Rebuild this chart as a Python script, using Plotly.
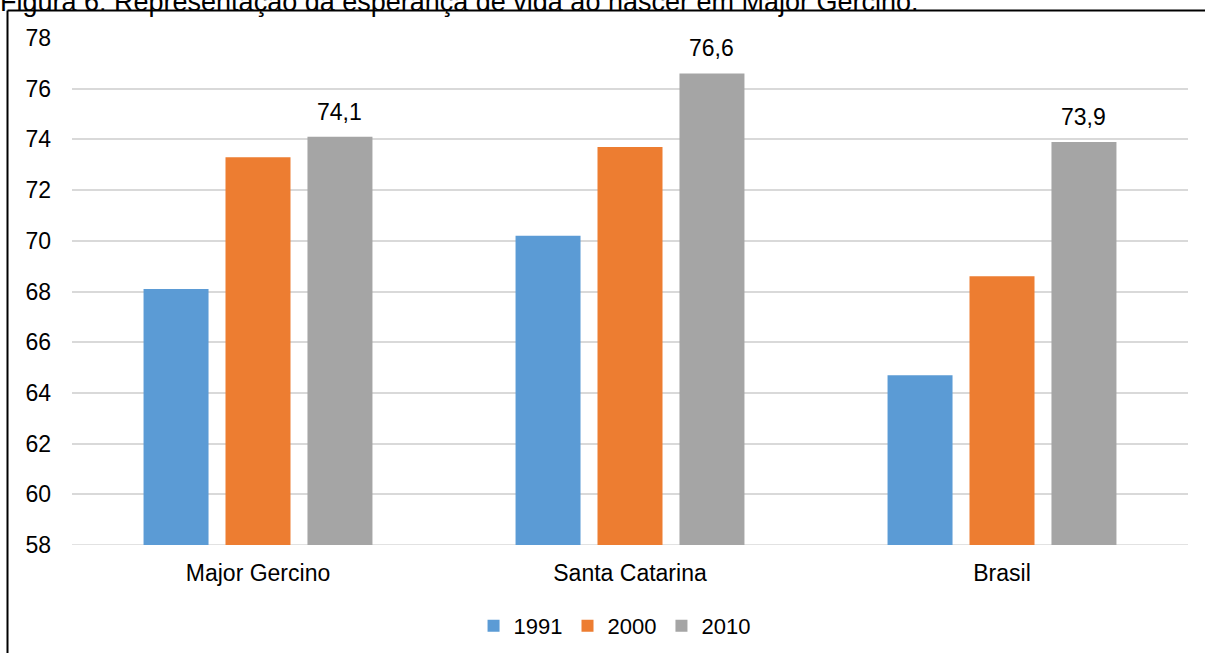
import plotly.graph_objects as go

categories = ["Major Gercino", "Santa Catarina", "Brasil"]
series_names = ["1991", "2000", "2010"]
v1991 = [68.1, 70.2, 64.7]
v2000 = [73.3, 73.7, 68.6]
v2010 = [74.1, 76.6, 73.9]
labels2010 = ["74,1", "76,6", "73,9"]
colors = ["#5B9BD5", "#ED7D31", "#A5A5A5"]
y_ticks = [58, 60, 62, 64, 66, 68, 70, 72, 74, 76, 78]
title_text = "Figura 6: Representação da esperança de vida ao nascer em Major Gercino."

W, H = 1205, 653
FONT = "Liberation Sans, Arial, sans-serif"
FS = 23
X0, X1 = 72, 1188
BARGAP, GROUPGAP = 0.339, 0.207

fig = go.Figure()
for name, vals, col in zip(series_names, [v1991, v2000, v2010], colors):
    fig.add_trace(go.Bar(x=categories, y=vals, name=name, marker_color=col,
                         marker_line_width=0))

# data labels above the 2010 bars
cat_px = (X1 - X0) / len(categories)
slot_px = cat_px * (1 - BARGAP) / len(series_names)
annotations = []
for cat, val, lab in zip(categories, v2010, labels2010):
    annotations.append(dict(text=lab, x=cat, y=val, xref="x", yref="y",
                            xshift=slot_px, yshift=25, yanchor="middle",
                            showarrow=False,
                            font=dict(size=FS, family=FONT, color="#000000")))
annotations.append(dict(text=title_text, xref="paper", yref="paper", x=0, y=1 - 19.5 / H,
                        xanchor="left", yanchor="bottom", showarrow=False, xshift=-2,
                        font=dict(size=27, family=FONT, color="#000000")))

fig.update_layout(
    width=W, height=H,
    margin=dict(l=0, r=0, t=0, b=0),
    paper_bgcolor="white", plot_bgcolor="white",
    barmode="group", bargap=BARGAP, bargroupgap=GROUPGAP,
    font=dict(family=FONT, size=FS, color="#000000"),
    showlegend=True,
    legend=dict(orientation="h", x=0.51, y=1 - 626 / H, xanchor="center", yanchor="middle",
                font=dict(size=22), itemwidth=30, traceorder="normal"),
    xaxis=dict(domain=[X0 / W, X1 / W], showgrid=False, showline=False, zeroline=False,
               ticks="", automargin=False, ticklabelstandoff=12, tickfont=dict(size=FS)),
    yaxis=dict(domain=[1 - 545 / H, 1 - 38 / H], range=[58, 78], tickvals=y_ticks,
               showgrid=True, gridcolor="#D9D9D9", gridwidth=1.5, zeroline=False,
               showline=False, ticks="", ticklabelstandoff=20, automargin=False,
               tickfont=dict(size=FS)),
    shapes=[
        dict(type="line", xref="paper", yref="paper", x0=7.5 / W, x1=1, y0=1 - 10.5 / H, y1=1 - 10.5 / H,
             line=dict(color="#000000", width=2)),
        dict(type="line", xref="paper", yref="paper", x0=7.5 / W, x1=7.5 / W, y0=0, y1=1 - 10.5 / H,
             line=dict(color="#000000", width=2)),
        dict(type="line", xref="paper", yref="y", x0=X0 / W, x1=X1 / W, y0=58, y1=58,
             line=dict(color="#D9D9D9", width=1.5), layer="below"),
    ],
    annotations=annotations,
)

fig.write_html("out.html")
